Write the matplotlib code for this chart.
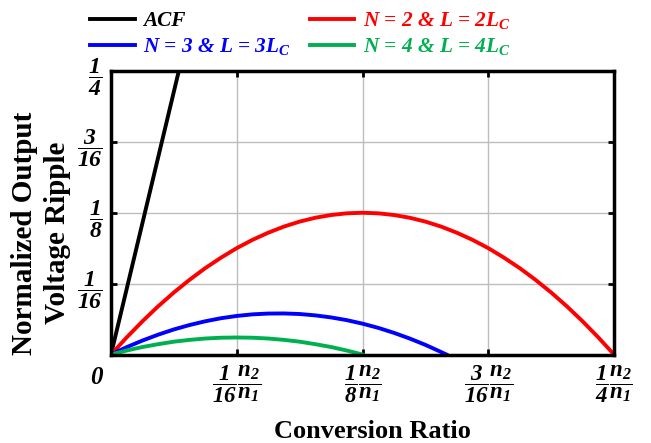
import matplotlib
matplotlib.use("Agg")
import matplotlib.pyplot as plt

plt.rcParams['font.family'] = ['Liberation Serif', 'DejaVu Serif']
plt.rcParams['mathtext.fontset'] = 'custom'
plt.rcParams['mathtext.rm'] = 'Liberation Serif:bold:italic'
plt.rcParams['mathtext.it'] = 'Liberation Serif:bold:italic'
plt.rcParams['mathtext.bf'] = 'Liberation Serif:bold:italic'

# ---- data ----
acf_x = [0.0, 0.0337]
acf_y = [0.0, 0.25]

n2_x = [k / 128 for k in range(33)]
n2_y = [0.0, 0.0151, 0.0293, 0.0425, 0.0547, 0.0659, 0.0762, 0.0854,
        0.0938, 0.1011, 0.1074, 0.1128, 0.1172, 0.1206, 0.1230, 0.1245,
        0.125,
        0.1245, 0.1230, 0.1206, 0.1172, 0.1128, 0.1074, 0.1011, 0.0938,
        0.0854, 0.0762, 0.0659, 0.0547, 0.0425, 0.0293, 0.0151, 0.0]

n3_x = [k / 128 for k in range(22)] + [0.1667]
n3_y = [0.0, 0.0065, 0.0123, 0.0175, 0.0221, 0.0260, 0.0293, 0.0320,
        0.0340, 0.0354, 0.0361, 0.0362, 0.0357, 0.0345, 0.0327, 0.0303,
        0.0272, 0.0235, 0.0191, 0.0141, 0.0085, 0.0022, 0.0]

n4_x = [k / 128 for k in range(17)]
n4_y = [0.0, 0.0035, 0.0066, 0.0091, 0.0113, 0.0129, 0.0141, 0.0148,
        0.0150, 0.0148, 0.0141, 0.0129, 0.0113, 0.0091, 0.0066, 0.0035, 0.0]

series_labels = ['ACF', r'N = 2 & L = 2$L_C$', r'N = 3 & L = 3$L_C$', r'N = 4 & L = 4$L_C$']
series_colors = ['#000000', '#ff0000', '#0000ff', '#00b050']

x_ticks = [1/16, 1/8, 3/16, 1/4]
x_ticklabels = [r'$\dfrac{1}{16}\dfrac{n_2}{n_1}$', r'$\dfrac{1}{8}\dfrac{n_2}{n_1}$',
                r'$\dfrac{3}{16}\dfrac{n_2}{n_1}$', r'$\dfrac{1}{4}\dfrac{n_2}{n_1}$']
y_ticks = [1/16, 1/8, 3/16, 1/4]
y_ticklabels = [r'$\dfrac{1}{16}$', r'$\dfrac{1}{8}$', r'$\dfrac{3}{16}$', r'$\dfrac{1}{4}$']

W, H = 651, 443
fig = plt.figure(figsize=(W / 100, H / 100), dpi=100)
ax = fig.add_axes([111 / W, 1 - 354.5 / H, (614 - 111) / W, (354.5 - 71) / H])

lw = 2.8
h_acf, = ax.plot(acf_x, acf_y, color=series_colors[0], lw=lw, label=series_labels[0])
h_n2, = ax.plot(n2_x, n2_y, color=series_colors[1], lw=lw, label=series_labels[1])
h_n3, = ax.plot(n3_x, n3_y, color=series_colors[2], lw=lw, label=series_labels[2])
h_n4, = ax.plot(n4_x, n4_y, color=series_colors[3], lw=lw, label=series_labels[3])

ax.set_xlim(0, 0.25)
ax.set_ylim(0, 0.25)
ax.set_xticks(x_ticks)
ax.set_xticklabels(x_ticklabels, fontsize=16.5)
ax.set_yticks(y_ticks)
ax.set_yticklabels(y_ticklabels, fontsize=17)
ax.grid(True, color='#bdbdbd', lw=1.0)
ax.tick_params(direction='in', length=4, width=2, top=True, right=True)
ax.tick_params(axis='x', pad=7)
ax.tick_params(axis='y', pad=6)
for s in ax.spines.values():
    s.set_linewidth(2.5)

fig.text(96 / W, 1 - 377 / H, '0', fontsize=18, fontweight='bold', fontstyle='italic',
         ha='center', va='center')

fig.text(372 / W, 1 - 432 / H, 'Conversion Ratio', fontsize=19, fontweight='bold',
         ha='center', va='center')
fig.text(41 / W, 1 - 233 / H, 'Normalized Output\nVoltage Ripple', fontsize=21,
         fontweight='bold', ha='center', va='center', rotation=90,
         linespacing=1.25, multialignment='center')

leg = fig.legend(handles=[h_acf, h_n3, h_n2, h_n4], loc='upper left',
                 bbox_to_anchor=(90 / W, 1 - 10 / H), ncol=2, frameon=False,
                 borderpad=0, borderaxespad=0,
                 handlelength=2.1, handletextpad=0.4, columnspacing=0.9,
                 labelspacing=0.25,
                 prop={'family': 'Liberation Serif', 'weight': 'bold',
                       'style': 'italic', 'size': 15.3},
                 labelcolor='linecolor')

fig.savefig('out.png', dpi=100)
